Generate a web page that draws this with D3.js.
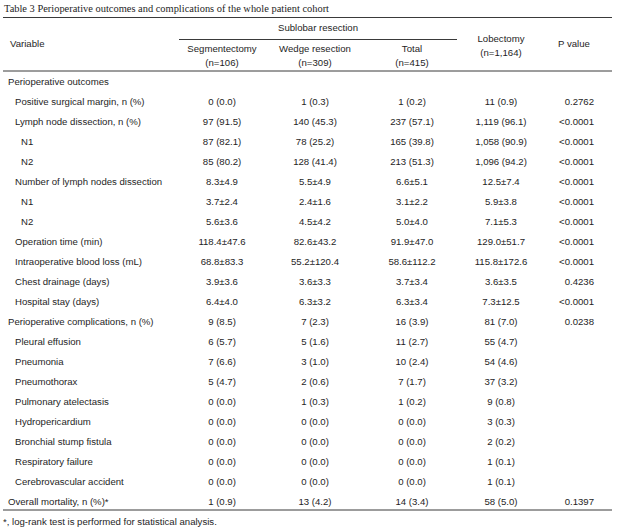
<!DOCTYPE html>
<html>
<head>
<meta charset="utf-8">
<script src="https://cdn.jsdelivr.net/npm/d3@7"></script>
<style>
  html, body { margin: 0; padding: 0; background: #fff; }
  svg { display: block; }
</style>
</head>
<body>
<div id="chart"></div>
<script>
const title = "Table 3 Perioperative outcomes and complications of the whole patient cohort";
const groupHeader = "Sublobar resection";
const columnHeaders = [
  ["Segmentectomy", "(n=106)"],
  ["Wedge resection", "(n=309)"],
  ["Total", "(n=415)"],
  ["Lobectomy", "(n=1,164)"],
  ["P value"]
];
const variableHeader = "Variable";
const rowLabels = [
  "Perioperative outcomes",
  "Positive surgical margin, n (%)",
  "Lymph node dissection, n (%)",
  "N1",
  "N2",
  "Number of lymph nodes dissection",
  "N1",
  "N2",
  "Operation time (min)",
  "Intraoperative blood loss (mL)",
  "Chest drainage (days)",
  "Hospital stay (days)",
  "Perioperative complications, n (%)",
  "Pleural effusion",
  "Pneumonia",
  "Pneumothorax",
  "Pulmonary atelectasis",
  "Hydropericardium",
  "Bronchial stump fistula",
  "Respiratory failure",
  "Cerebrovascular accident",
  "Overall mortality, n (%)*"
];
const rowLevels = [0,1,1,2,2,1,2,2,1,1,1,1,0,1,1,1,1,1,1,1,1,0];
const segmentectomy = ["", "0 (0.0)", "97 (91.5)", "87 (82.1)", "85 (80.2)", "8.3±4.9", "3.7±2.4", "5.6±3.6", "118.4±47.6", "68.8±83.3", "3.9±3.6", "6.4±4.0", "9 (8.5)", "6 (5.7)", "7 (6.6)", "5 (4.7)", "0 (0.0)", "0 (0.0)", "0 (0.0)", "0 (0.0)", "0 (0.0)", "1 (0.9)"];
const wedge = ["", "1 (0.3)", "140 (45.3)", "78 (25.2)", "128 (41.4)", "5.5±4.9", "2.4±1.6", "4.5±4.2", "82.6±43.2", "55.2±120.4", "3.6±3.3", "6.3±3.2", "7 (2.3)", "5 (1.6)", "3 (1.0)", "2 (0.6)", "1 (0.3)", "0 (0.0)", "0 (0.0)", "0 (0.0)", "0 (0.0)", "13 (4.2)"];
const total = ["", "1 (0.2)", "237 (57.1)", "165 (39.8)", "213 (51.3)", "6.6±5.1", "3.1±2.2", "5.0±4.0", "91.9±47.0", "58.6±112.2", "3.7±3.4", "6.3±3.4", "16 (3.9)", "11 (2.7)", "10 (2.4)", "7 (1.7)", "1 (0.2)", "0 (0.0)", "0 (0.0)", "0 (0.0)", "0 (0.0)", "14 (3.4)"];
const lobectomy = ["", "11 (0.9)", "1,119 (96.1)", "1,058 (90.9)", "1,096 (94.2)", "12.5±7.4", "5.9±3.8", "7.1±5.3", "129.0±51.7", "115.8±172.6", "3.6±3.5", "7.3±12.5", "81 (7.0)", "55 (4.7)", "54 (4.6)", "37 (3.2)", "9 (0.8)", "3 (0.3)", "2 (0.2)", "1 (0.1)", "1 (0.1)", "58 (5.0)"];
const pValues = ["", "0.2762", "<0.0001", "<0.0001", "<0.0001", "<0.0001", "<0.0001", "<0.0001", "<0.0001", "<0.0001", "0.4236", "<0.0001", "0.0238", "", "", "", "", "", "", "", "", "0.1397"];
const footnote = "*, log-rank test is performed for statistical analysis.";

const W = 640, H = 530;
const FONT = "'Liberation Sans', Arial, Helvetica, sans-serif";
const FS = 9.6;
const TXT = "#1e1e1e";
const RULE = "#3a3a3a";

const svg = d3.select("#chart").append("svg").attr("width", W).attr("height", H);

// scales
const y = d3.scaleLinear().domain([0, rowLabels.length - 1]).range([81.7, 501.7]);
const colX = d3.scaleOrdinal().domain([0,1,2,3]).range([222, 315, 412, 501]);
const indentX = d3.scaleOrdinal().domain([0,1,2]).range([8, 15, 21]);
const pRight = 594;
const base = 3.4; // center to baseline offset

// title
svg.append("text")
  .attr("x", 4).attr("y", 11.5)
  .attr("font-family", "'Liberation Serif', 'Times New Roman', serif")
  .attr("font-size", 9.6)
  .attr("fill", TXT)
  .attr("textLength", 325).attr("lengthAdjust", "spacingAndGlyphs")
  .text(title);

// rules
const rule = (x1, x2, yy, w) => svg.append("line")
  .attr("x1", x1).attr("x2", x2).attr("y1", yy).attr("y2", yy)
  .attr("stroke", RULE).attr("stroke-width", w);
rule(3, 612, 17.5, 1.1);
rule(179, 457, 39.5, 1);
rule(3, 612, 71, 1);
rule(3, 612, 510, 1.1);

const text = (x, yy, s, anchor) => svg.append("text")
  .attr("x", x).attr("y", yy)
  .attr("font-family", FONT).attr("font-size", FS)
  .attr("fill", TXT).attr("text-anchor", anchor || "start")
  .text(s);

// header
text(318, 31, groupHeader, "middle");
text(10, 46.5, variableHeader);
columnHeaders.slice(0, 3).forEach((h, i) => {
  text(colX(i), 51.5, h[0], "middle");
  text(colX(i), 65.5, h[1], "middle");
});
text(colX(3), 41.5, columnHeaders[3][0], "middle");
text(colX(3), 56, columnHeaders[3][1], "middle");
text(574, 47, columnHeaders[4][0], "middle");

// body
const rows = rowLabels.map((label, i) => ({
  label, level: rowLevels[i],
  vals: [segmentectomy[i], wedge[i], total[i], lobectomy[i]],
  p: pValues[i], i
}));

const g = svg.append("g")
  .attr("font-family", FONT).attr("font-size", FS).attr("fill", TXT);

const rowG = g.selectAll("g.row").data(rows).join("g")
  .attr("class", "row")
  .attr("transform", d => `translate(0,${y(d.i) + base})`);

rowG.append("text")
  .attr("x", d => indentX(d.level))
  .text(d => d.label);

rowG.selectAll("text.val").data(d => d.vals.map((v, c) => ({v, c}))).join("text")
  .attr("class", "val")
  .attr("x", d => colX(d.c))
  .attr("text-anchor", "middle")
  .text(d => d.v);

rowG.append("text")
  .attr("x", pRight)
  .attr("text-anchor", "end")
  .text(d => d.p);

// footnote
text(3, 525, footnote);
</script>
</body>
</html>
